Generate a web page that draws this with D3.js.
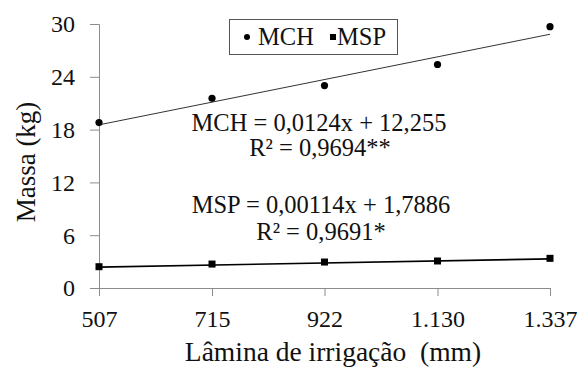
<!DOCTYPE html>
<html>
<head>
<meta charset="utf-8">
<script src="https://cdn.jsdelivr.net/npm/d3@7"></script>
</head>
<body style="margin:0;padding:0;background:#fff">
<svg id="chart" width="582" height="367"></svg>
<script>
// Irrigation depth (mm)
const lamina = [507, 715, 922, 1130, 1337];
const xTickLabels = ["507", "715", "922", "1.130", "1.337"];
// Fresh and dry mass (kg)
const mch = [18.8, 21.55, 23.0, 25.4, 29.7];
const msp = [2.42, 2.72, 2.95, 3.07, 3.37];
// Fitted linear models
const mchFit = { a: 0.0124, b: 12.255 };
const mspFit = { a: 0.00114, b: 1.7886 };
const yTicks = [0, 6, 12, 18, 24, 30];

const FAMILY = "Liberation Serif";
const svg = d3.select("#chart");
const x = d3.scaleLinear().domain([507, 1337]).range([99, 550]);
const y = d3.scaleLinear().domain([0, 30]).range([288, 24]);
const axisColor = "#8c8c8c";

const label = (sel, px) => sel.attr("font-family", FAMILY).attr("font-size", px)
  .style("font-family", '"Liberation Serif"').attr("fill", "#111");

// Y axis
const yAxis = svg.append("g").attr("transform", "translate(99,0)")
  .call(d3.axisLeft(y).tickValues(yTicks).tickSize(9).tickPadding(15).tickFormat(d3.format("d")));
yAxis.attr("font-family", FAMILY).attr("font-size", 24);
yAxis.select(".domain").attr("stroke", axisColor);
yAxis.selectAll(".tick line").attr("stroke", axisColor);
label(yAxis.selectAll(".tick text").attr("dy", "0.33em"), 24);

// X axis
const xAxis = svg.append("g").attr("transform", "translate(0,288)")
  .call(d3.axisBottom(x).tickValues(lamina).tickSize(8).tickSizeOuter(0).tickPadding(14)
    .tickFormat((d, i) => xTickLabels[i]));
xAxis.attr("font-family", FAMILY).attr("font-size", 24);
xAxis.select(".domain").attr("stroke", axisColor).attr("d", "M90,0.5H550");
xAxis.selectAll(".tick line").attr("stroke", axisColor);
label(xAxis.selectAll(".tick text").attr("dy", "0.71em"), 24);

// Trend lines
const fitLine = (fit) => [507, 1337].map(v => [x(v), y(fit.a * v + fit.b)]);
svg.append("path").attr("d", d3.line()(fitLine(mchFit)))
  .attr("stroke", "#333").attr("stroke-width", 1).attr("fill", "none");
svg.append("path").attr("d", d3.line()(fitLine(mspFit)))
  .attr("stroke", "#000").attr("stroke-width", 1.6).attr("fill", "none");

// Markers
svg.selectAll("circle.mch").data(mch).enter().append("circle")
  .attr("cx", (d, i) => x(lamina[i])).attr("cy", d => y(d)).attr("r", 3.6).attr("fill", "#000");
svg.selectAll("rect.msp").data(msp).enter().append("rect")
  .attr("x", (d, i) => x(lamina[i]) - 3.5).attr("y", d => y(d) - 3.5)
  .attr("width", 7).attr("height", 7).attr("fill", "#000");

// Equations
const eqs = [
  { t: "MCH = 0,0124x + 12,255", x: 319, y: 131 },
  { t: "R² = 0,9694**", x: 320, y: 156 },
  { t: "MSP = 0,00114x + 1,7886", x: 321, y: 213 },
  { t: "R² = 0,9691*", x: 321, y: 240 }
];
eqs.forEach(e => label(svg.append("text").attr("x", e.x).attr("y", e.y)
  .attr("text-anchor", "middle").text(e.t), 24.5));

// Legend
const lg = svg.append("g");
lg.append("rect").attr("x", 229.5).attr("y", 19.5).attr("width", 168).attr("height", 35)
  .attr("fill", "#fff").attr("stroke", "#555").attr("stroke-width", 1);
lg.append("circle").attr("cx", 247).attr("cy", 37).attr("r", 3).attr("fill", "#000");
label(lg.append("text").attr("x", 258).attr("y", 45).text("MCH"), 24.5);
lg.append("rect").attr("x", 330).attr("y", 34).attr("width", 6).attr("height", 6).attr("fill", "#000");
label(lg.append("text").attr("x", 337).attr("y", 45).text("MSP"), 24.5);

// Axis titles
label(svg.append("text").attr("x", 333).attr("y", 361).attr("text-anchor", "middle")
  .attr("xml:space", "preserve").text("Lâmina de irrigação  (mm)"), 27.5);
label(svg.append("text").attr("transform", "translate(35,162) rotate(-90)")
  .attr("text-anchor", "middle").text("Massa (kg)"), 27);
</script>
</body>
</html>
